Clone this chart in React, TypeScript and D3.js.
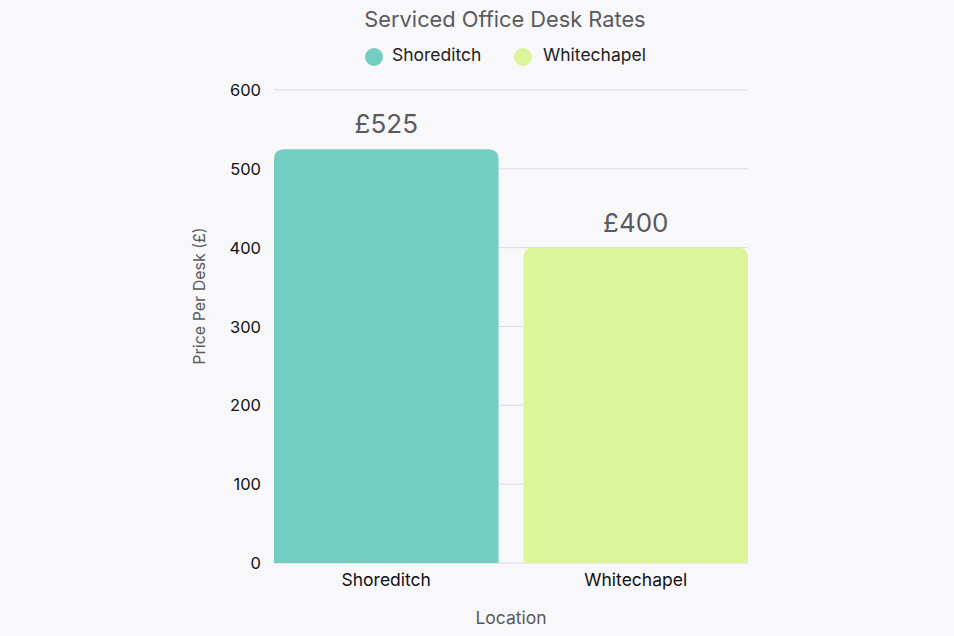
import React from 'react';
import * as d3 from 'd3';

const locations = ['Shoreditch', 'Whitechapel'];
const prices = [525, 400];
const colors = ['#72cdc2', '#dcf59a'];
const yTicks = [0, 100, 200, 300, 400, 500, 600];

const width = 954;
const height = 636;
const margin = { top: 90, right: 206, bottom: 73, left: 274 };
const font = 'Inter, "Noto Sans", sans-serif';

// rounded top corners only
function barPath(x: number, y: number, w: number, h: number, r: number) {
  return `M${x},${y + h}V${y + r}Q${x},${y} ${x + r},${y}H${x + w - r}Q${x + w},${y} ${x + w},${y + r}V${y + h}Z`;
}

const App: React.FC = () => {
  const x = d3
    .scaleBand<string>()
    .domain(locations)
    .range([margin.left, width - margin.right])
    .paddingInner(0.1)
    .paddingOuter(0);

  const y = d3
    .scaleLinear()
    .domain([0, 600])
    .range([height - margin.bottom, margin.top]);

  const legendItems = [
    { name: locations[0], cx: 374, tx: 392 },
    { name: locations[1], cx: 523, tx: 543 },
  ];

  return (
    <svg
      width={width}
      height={height}
      style={{ position: 'absolute', left: 0, top: 0, background: '#f8f7fa', fontFamily: font }}
    >
      <rect width={width} height={height} fill="#f8f7fa" />
      <text x={505} y={27} textAnchor="middle" fontSize={21.8} fill="#5a5a5e">
        Serviced Office Desk Rates
      </text>

      {legendItems.map((d, i) => (
        <g key={d.name}>
          <circle cx={d.cx} cy={57} r={9} fill={colors[i]} />
          <text x={d.tx} y={61} fontSize={17.5} fill="#222">
            {d.name}
          </text>
        </g>
      ))}

      {yTicks.map((t) => (
        <g key={t}>
          <line
            x1={margin.left}
            x2={width - margin.right}
            y1={y(t)}
            y2={y(t)}
            stroke="#dcdbe0"
            strokeWidth={1}
          />
          <text x={261} y={y(t) + 6} textAnchor="end" fontSize={16.5} fill="#111">
            {t}
          </text>
        </g>
      ))}

      {locations.map((loc, i) => {
        const bx = x(loc) as number;
        const bw = x.bandwidth();
        const by = y(prices[i]);
        const bh = y(0) - by;
        return (
          <g key={loc}>
            <path d={barPath(bx, by, bw, bh, 10)} fill={colors[i]} />
            <text
              x={bx + bw / 2}
              y={by - 16}
              textAnchor="middle"
              fontSize={26}
              fill="#5a5a5e"
            >
              £{prices[i]}
            </text>
            <text x={bx + bw / 2} y={y(0) + 23} textAnchor="middle" fontSize={17.5} fill="#111">
              {loc}
            </text>
          </g>
        );
      })}

      <text
        transform={`translate(205,296) rotate(-90)`}
        textAnchor="middle"
        fontSize={16}
        fill="#5a5a5e"
      >
        Price Per Desk (£)
      </text>
      <text x={511} y={624} textAnchor="middle" fontSize={17.5} fill="#5a5a5e">
        Location
      </text>
    </svg>
  );
};

export default App;
